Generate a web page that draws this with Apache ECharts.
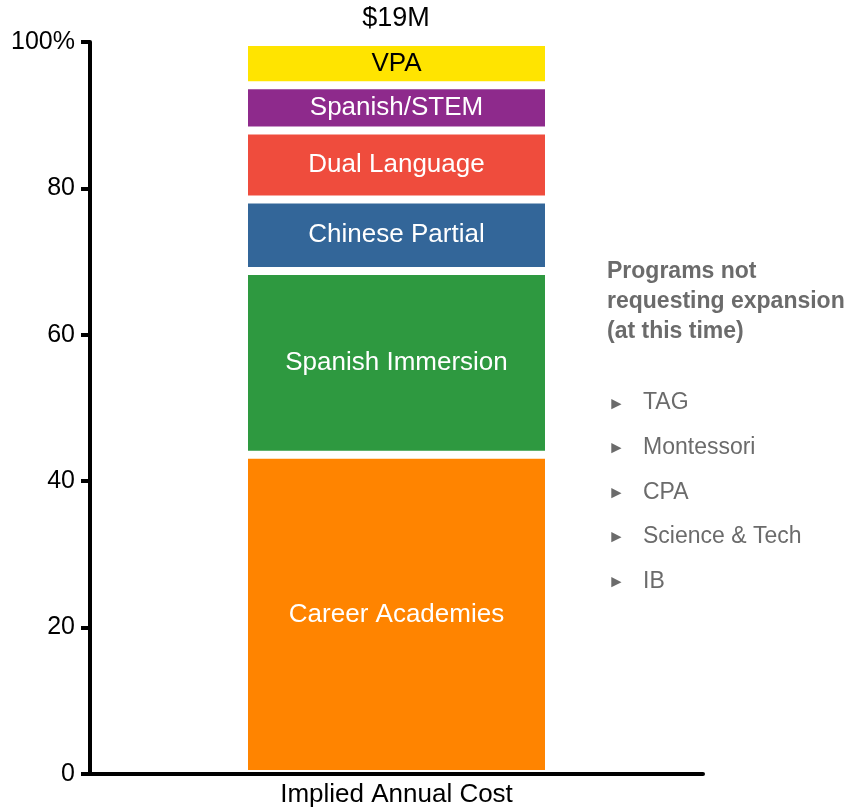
<!DOCTYPE html>
<html>
<head>
<meta charset="utf-8">
<style>
  html, body { margin: 0; padding: 0; background: #fff; }
  #chart { width: 855px; height: 808px; }
</style>
<script src="https://cdn.jsdelivr.net/npm/echarts@6/dist/echarts.min.js"></script>
</head>
<body>
<div id="chart"></div>
<script>
// Share of implied annual cost by program (percent of total)
const categories = ['Implied Annual Cost'];
const programs = ['Career Academies', 'Spanish Immersion', 'Chinese Partial', 'Dual Language', 'Spanish/STEM', 'VPA'];
const shares = [43.6, 25.1, 9.8, 9.4, 6.2, 5.9];
const colors = ['#FF8400', '#2E9940', '#336699', '#EF4C3D', '#8E2A8C', '#FFE400'];
const labelColors = ['#fff', '#fff', '#fff', '#fff', '#fff', '#000'];
const totalLabel = '$19M';
const yTicks = [0, 20, 40, 60, 80, 100];
const sideTitle = ['Programs not', 'requesting expansion', '(at this time)'];
const sidePrograms = ['TAG', 'Montessori', 'CPA', 'Science & Tech', 'IB'];

const font = 'Liberation Sans, Arial, sans-serif';
const sideGrey = '#6b6b6b';

const series = programs.map((name, i) => ({
  name: name,
  type: 'bar',
  stack: 'total',
  barWidth: 305,
  data: [shares[i]],
  itemStyle: { color: colors[i], borderColor: '#fff', borderWidth: 4 },
  label: {
    show: true,
    position: 'inside',
    formatter: name,
    color: labelColors[i],
    fontSize: 26,
    fontFamily: font
  },
  emphasis: { disabled: true }
}));

const graphics = [];
sideTitle.forEach((line, i) => {
  graphics.push({
    type: 'text',
    x: 607,
    y: 272 + i * 30,
    style: { text: line, fill: sideGrey, font: 'bold 23px ' + font, textVerticalAlign: 'middle' }
  });
});
sidePrograms.forEach((p, i) => {
  graphics.push({
    type: 'text',
    x: 608,
    y: 404 + i * 44.6,
    style: { text: '\u25BA', fill: sideGrey, font: '17px ' + font, textVerticalAlign: 'middle' }
  });
  graphics.push({
    type: 'text',
    x: 643,
    y: 403 + i * 44.6,
    style: { text: p, fill: sideGrey, font: '23px ' + font, textVerticalAlign: 'middle' }
  });
});
graphics.push({
  type: 'text',
  x: 396,
  y: 19,
  style: { text: totalLabel, fill: '#000', font: '27px ' + font, textAlign: 'center', textVerticalAlign: 'middle' }
});

const chart = echarts.init(document.getElementById('chart'));
chart.setOption({
  animation: false,
  grid: { left: 90, right: 152, top: 42, bottom: 33, containLabel: false },
  xAxis: {
    type: 'category',
    data: categories,
    z: 5,
    axisLine: { show: true, lineStyle: { color: '#000', width: 4 } },
    axisTick: { show: false },
    axisLabel: { color: '#000', fontSize: 26, fontFamily: font, margin: 8 }
  },
  yAxis: {
    type: 'value',
    min: yTicks[0],
    max: yTicks[yTicks.length - 1],
    interval: 20,
    z: 5,
    splitLine: { show: false },
    axisLine: { show: true, lineStyle: { color: '#000', width: 4 } },
    axisTick: { show: true, length: 9, lineStyle: { color: '#000', width: 4 } },
    axisLabel: {
      color: '#000', fontSize: 25, fontFamily: font, margin: 15,
      formatter: v => (v === 100 ? '100%' : String(v))
    }
  },
  series: series,
  graphic: graphics
});
</script>
</body>
</html>
